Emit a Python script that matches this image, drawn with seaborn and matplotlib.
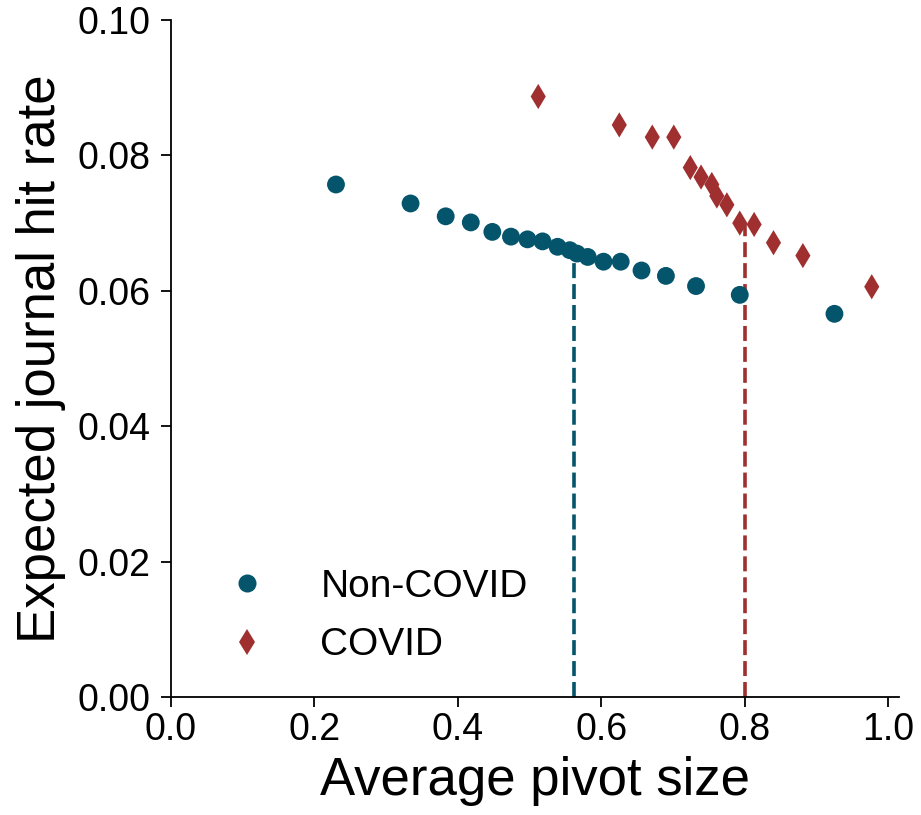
import numpy as np
import pandas as pd
import matplotlib
matplotlib.use("Agg")
import matplotlib.pyplot as plt
import seaborn as sns

# Non-COVID papers
non_covid_pivot = [0.230, 0.334, 0.383, 0.418, 0.448, 0.474, 0.497, 0.518, 0.539, 0.556,
                   0.566, 0.581, 0.603, 0.627, 0.656, 0.690, 0.732, 0.793, 0.925]
non_covid_hit = [0.0757, 0.0729, 0.0710, 0.0701, 0.0687, 0.0680, 0.0676, 0.0673, 0.0665, 0.0660,
                 0.0655, 0.0650, 0.0643, 0.0643, 0.0630, 0.0622, 0.0607, 0.0594, 0.0566]

# COVID papers
covid_pivot = [0.512, 0.625, 0.671, 0.701, 0.724, 0.739, 0.754, 0.761, 0.775, 0.793,
               0.813, 0.840, 0.881, 0.977]
covid_hit = [0.0887, 0.0845, 0.0827, 0.0827, 0.0782, 0.0768, 0.0757, 0.0740, 0.0727, 0.0700,
             0.0698, 0.0671, 0.0652, 0.0606]

# Mean pivot size for each group, with the hit rate where the marker line stops
groups = ["Non-COVID", "COVID"]
mean_pivot = [0.562, 0.800]
mean_hit = [0.0655, 0.0700]

x_ticks = [0.0, 0.2, 0.4, 0.6, 0.8, 1.0]
y_ticks = [0.00, 0.02, 0.04, 0.06, 0.08, 0.10]

colors = {"Non-COVID": "#04546c", "COVID": "#a02f2f"}
markers = {"Non-COVID": "o", "COVID": "d"}

df = pd.DataFrame({
    "pivot": non_covid_pivot + covid_pivot,
    "hit": non_covid_hit + covid_hit,
    "group": ["Non-COVID"] * len(non_covid_pivot) + ["COVID"] * len(covid_pivot),
})

sns.set_theme(style="ticks")
plt.rcParams["font.family"] = ["Liberation Sans", "DejaVu Sans"]
plt.rcParams["text.color"] = "black"
plt.rcParams["axes.labelcolor"] = "black"

fig = plt.figure(figsize=(9.21, 8.15), dpi=100)
ax = fig.add_axes([171 / 921, 1 - 697 / 815, (899 - 171) / 921, (697 - 20) / 815])

for g, xm, ym in zip(groups, mean_pivot, mean_hit):
    ax.plot([xm, xm], [0, ym], ls=(0, (4.15, 1.65)), lw=2.6, color=colors[g], zorder=1)

sns.scatterplot(data=df, x="pivot", y="hit", hue="group", style="group",
                hue_order=groups, style_order=groups,
                palette=colors, markers=markers, s=165, linewidth=0,
                ax=ax, zorder=3)

ax.set_xlim(0, 1.015)
ax.set_ylim(0, 0.10)
ax.set_xticks(x_ticks)
ax.set_yticks(y_ticks)
ax.set_xticklabels([f"{v:.1f}" for v in x_ticks])
ax.set_yticklabels([f"{v:.2f}" for v in y_ticks])
ax.tick_params(axis="both", labelsize=27, length=7, width=1.3, color="black", labelcolor="black")
ax.tick_params(axis="y", pad=8)
ax.set_xlabel("Average pivot size", fontsize=38, labelpad=6, color="black")
ax.set_ylabel("Expected journal hit rate", fontsize=38, labelpad=8, color="black")
for side in ["left", "bottom"]:
    ax.spines[side].set_linewidth(1.3)
    ax.spines[side].set_color("black")
sns.despine(ax=ax)

handles, labels = ax.get_legend_handles_labels()
for h in handles:
    h.set_markersize(13)
leg = ax.legend(handles, labels, loc="lower left", bbox_to_anchor=(0.029, 0.027),
                frameon=False, fontsize=28, handletextpad=0.9, labelspacing=0.58,
                handlelength=2.0, borderaxespad=0)
for t in leg.get_texts():
    t.set_color("black")

fig.savefig("out.png", dpi=100)
